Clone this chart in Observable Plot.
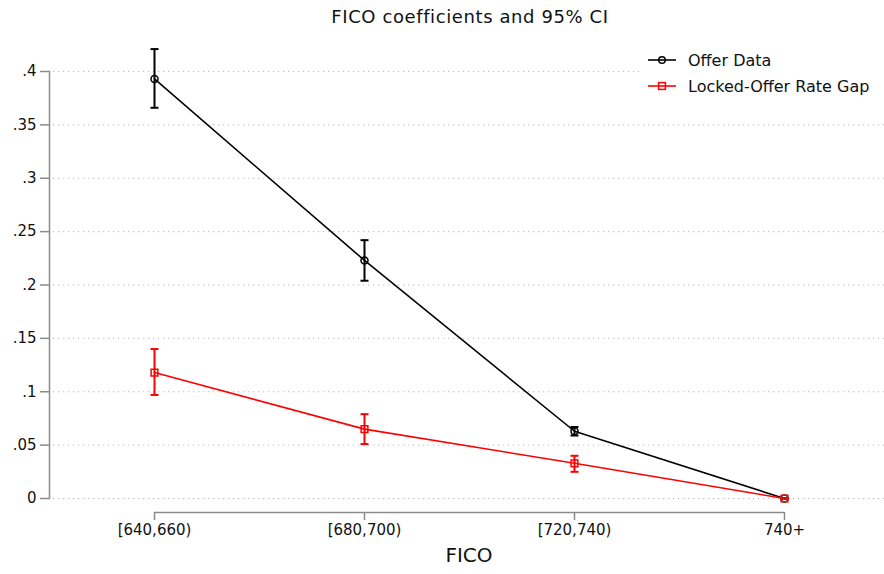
<!DOCTYPE html>
<html>
<head>
<meta charset="utf-8">
<script src="https://cdn.jsdelivr.net/npm/d3@7"></script>
<script src="https://cdn.jsdelivr.net/npm/@observablehq/plot@0.6"></script>
<style>
  body { margin: 0; background: #fff; font-family: "DejaVu Sans", sans-serif; }
  #wrap { position: relative; width: 884px; height: 574px; overflow: hidden; }
  #title { position: absolute; top: 6px; left: 0; width: 940px; text-align: center; font-size: 18px; letter-spacing: 0.6px; color: #111; }
  #legend { position: absolute; left: 643px; top: 45px; width: 241px; height: 56px; background: #fff; font-size: 16px; color: #111; }
  .row { position: absolute; left: 0; height: 20px; display: flex; align-items: center; }
  .row svg { margin-left: 5px; margin-right: 12px; }
</style>
</head>
<body>
<div id="wrap">
  <div id="chart"></div>
  <div id="title">FICO coefficients and 95% CI</div>
  <div id="legend"></div>
</div>
<script>
const categories = ["[640,660)", "[680,700)", "[720,740)", "740+"];
const offerCoef = [0.393, 0.223, 0.063, 0];
const offerLo   = [0.366, 0.204, 0.059, 0];
const offerHi   = [0.421, 0.242, 0.067, 0];
const lockedCoef = [0.118, 0.065, 0.033, 0];
const lockedLo   = [0.097, 0.051, 0.025, 0];
const lockedHi   = [0.140, 0.079, 0.040, 0];
const yTicks = [0, 0.05, 0.1, 0.15, 0.2, 0.25, 0.3, 0.35, 0.4];
const seriesNames = ["Offer Data", "Locked-Offer Rate Gap"];
const seriesColors = ["#000000", "#ff0000"];

const offer = categories.map((c, i) => ({cat: c, v: offerCoef[i], lo: offerLo[i], hi: offerHi[i]}));
const locked = categories.map((c, i) => ({cat: c, v: lockedCoef[i], lo: lockedLo[i], hi: lockedHi[i]}));

const fmt = d => d === 0 ? "0" : d3.format(".2~f")(d).replace(/^0/, "");

const capSymbol = {
  draw(context, size) {
    const r = Math.sqrt(size / Math.PI);
    context.moveTo(-r, 0);
    context.lineTo(r, 0);
  }
};

function series(data, color, symbol) {
  return [
    Plot.line(data, {x: "cat", y: "v", stroke: color, strokeWidth: 1.6}),
    Plot.ruleX(data, {x: "cat", y1: "lo", y2: "hi", stroke: color, strokeWidth: 2}),
    Plot.dot(data, {x: "cat", y: "lo", symbol: capSymbol, r: 4, stroke: color, fill: "none", strokeWidth: 2}),
    Plot.dot(data, {x: "cat", y: "hi", symbol: capSymbol, r: 4, stroke: color, fill: "none", strokeWidth: 2}),
    Plot.dot(data, {x: "cat", y: "v", stroke: color, fill: "none", symbol, r: symbol === "square" ? 3.8 : 3.5, strokeWidth: 1.5})
  ];
}

const axisColor = "#8a8a8a";

const chart = Plot.plot({
  width: 884,
  height: 574,
  marginTop: 71,
  marginBottom: 76,
  marginLeft: 49,
  marginRight: 0,
  style: {fontFamily: "DejaVu Sans, sans-serif", color: "#111", background: "#fff"},
  x: {type: "point", domain: categories, range: [153, 785], padding: 0},
  y: {domain: [0, 0.4]},
  marks: [
    Plot.gridY(yTicks, {stroke: "#b8b8b8", strokeOpacity: 1, strokeDasharray: "1.2,3.8", insetLeft: 4}),
    Plot.frame({anchor: "left", stroke: axisColor, strokeWidth: 1.5}),
    Plot.axisY(yTicks, {tickSize: 9, tickPadding: 4, tickFormat: fmt, fontSize: 15, stroke: axisColor, strokeWidth: 1.5, fill: "#111", label: null}),
    Plot.ruleY([0], {x1: () => categories[0], x2: () => categories[categories.length - 1], dy: 14, stroke: axisColor, strokeWidth: 1.5}),
    Plot.axisX({dy: 14, tickSize: 8, tickPadding: 4, fontSize: 15, stroke: axisColor, strokeWidth: 1.5, fill: "#111", label: null}),
    Plot.text(["FICO"], {frameAnchor: "bottom", dy: 63, dx: 2, fontSize: 20, fill: "#111"}),
    ...series(offer, seriesColors[0], "circle"),
    ...series(locked, seriesColors[1], "square")
  ]
});
document.getElementById("chart").appendChild(chart);

const legend = document.getElementById("legend");
seriesNames.forEach((name, i) => {
  const row = document.createElement("div");
  row.className = "row";
  row.style.top = (5 + i * 26) + "px";
  const c = seriesColors[i];
  const sym = i === 0
    ? `<circle cx="14" cy="10" r="3.3" fill="none" stroke="${c}" stroke-width="1.5"/>`
    : `<rect x="10.6" y="6.6" width="6.8" height="6.8" fill="none" stroke="${c}" stroke-width="1.5"/>`;
  row.innerHTML = `<svg width="28" height="20"><line x1="0" x2="28" y1="10" y2="10" stroke="${c}" stroke-width="1.6"/>${sym}</svg><span>${name}</span>`;
  legend.appendChild(row);
});
</script>
</body>
</html>
